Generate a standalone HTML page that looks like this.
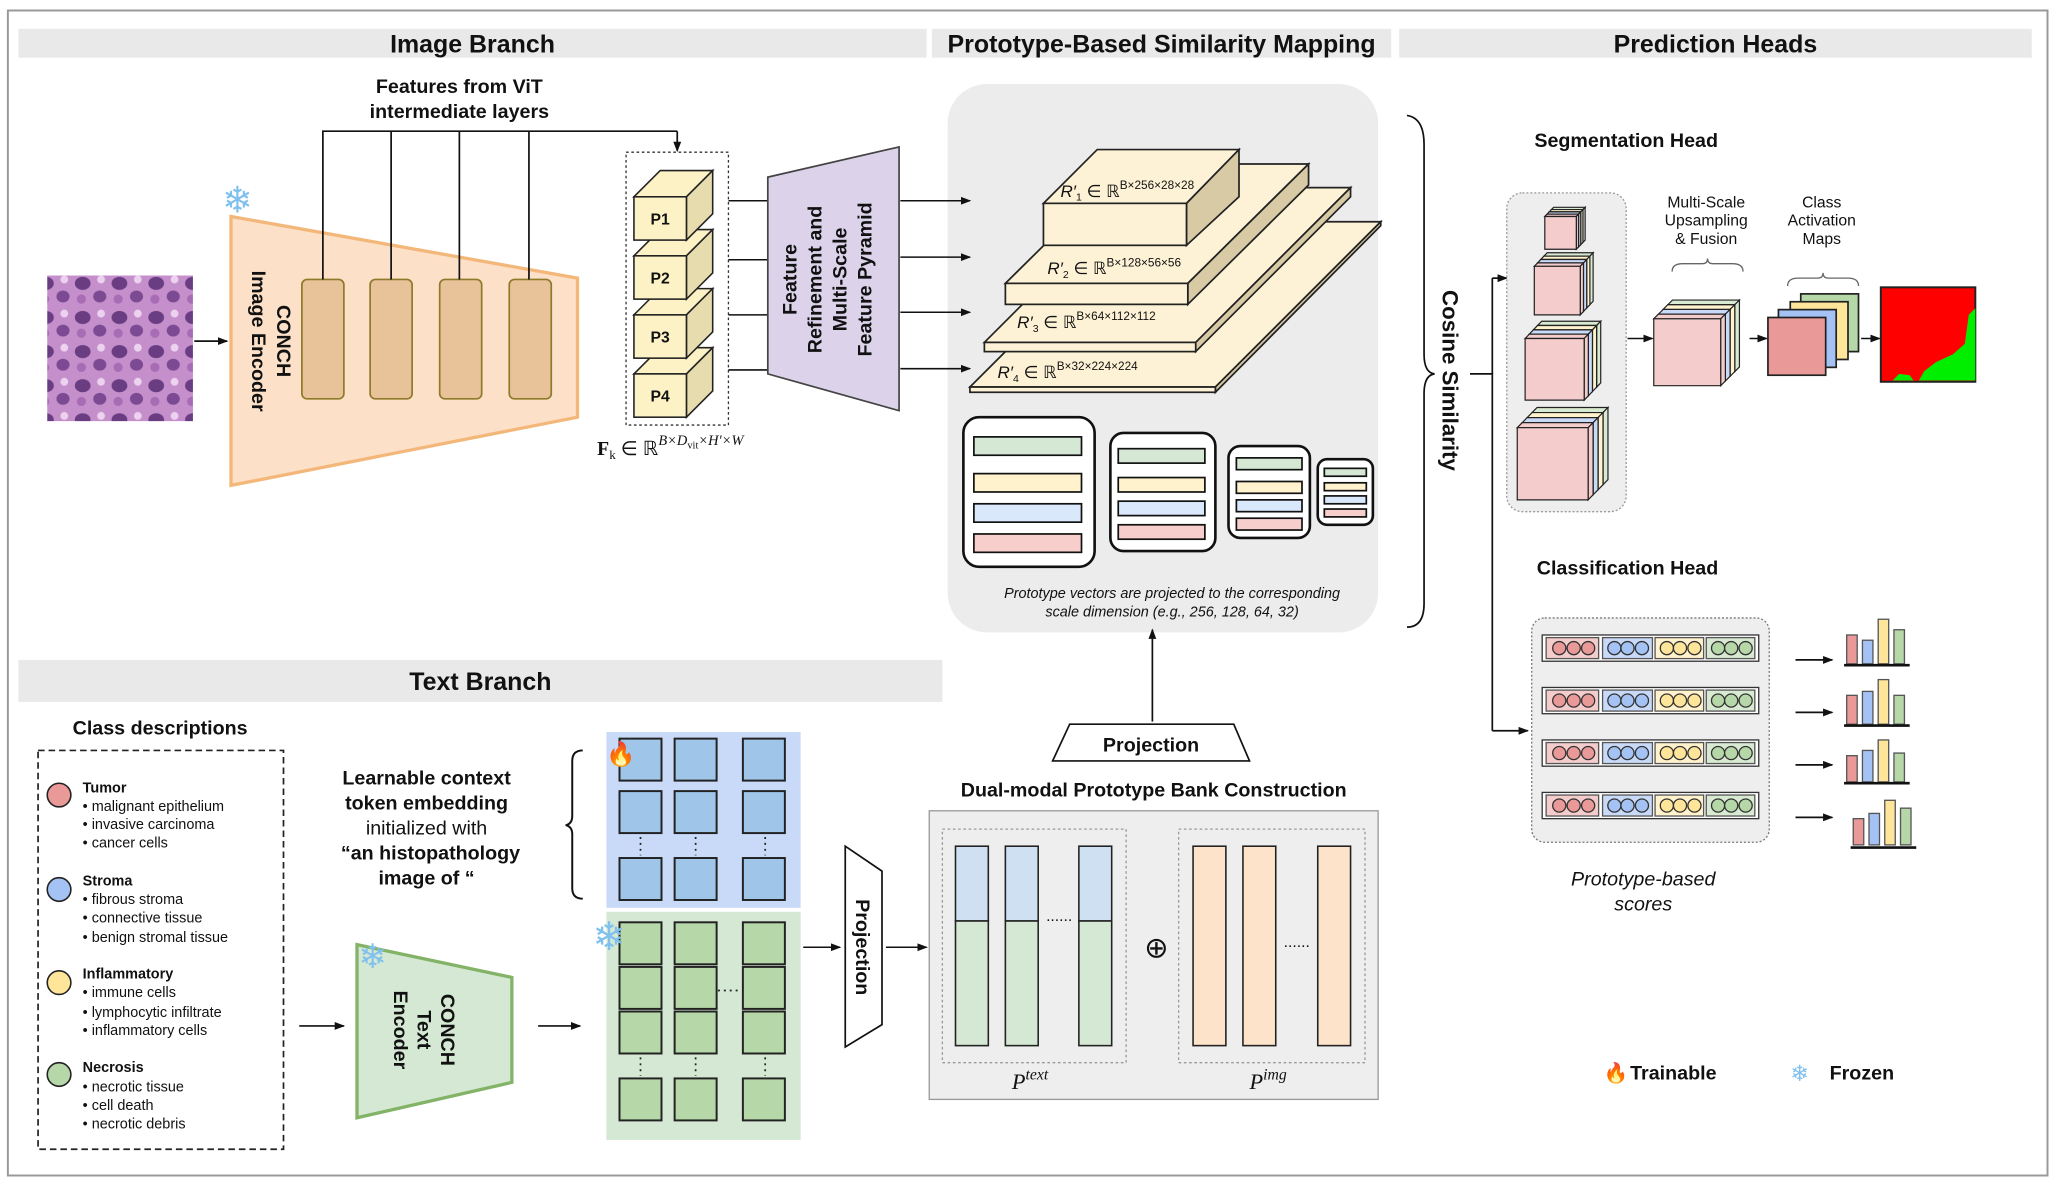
<!DOCTYPE html>
<html><head><meta charset="utf-8"><style>
html,body{margin:0;padding:0;background:#fff}
svg{display:block}
text{font-family:"Liberation Sans",sans-serif;fill:#111}
.b{font-weight:bold}
.m{font-family:"Liberation Serif",serif}
.ns{vector-effect:non-scaling-stroke}
.sf{fill:#7fc0ee}
</style></head><body>
<svg width="2058" height="1186" viewBox="0 0 1568 904" preserveAspectRatio="none" xmlns="http://www.w3.org/2000/svg">
<defs>
<marker id="ar" markerWidth="8" markerHeight="8" refX="7" refY="4" orient="auto" markerUnits="userSpaceOnUse"><path d="M0,1 L8,4 L0,7Z" fill="#111"/></marker>
<g id="lay">
<path class="ns" d="M0,0 L.07,-.07 L1.07,-.07 L1,0Z" stroke="#222" stroke-width="1.2"/>
<path class="ns" d="M1,0 L1.07,-.07 L1.07,.93 L1,1Z" stroke="#222" stroke-width="1.2"/>
<rect class="ns" x="0" y="0" width="1" height="1" stroke="#222" stroke-width="1.2"/>
</g>
<g id="cube">
<use href="#lay" x="0.21" y="-0.21" fill="#d9ead3"/>
<use href="#lay" x="0.14" y="-0.14" fill="#fff2cc"/>
<use href="#lay" x="0.07" y="-0.07" fill="#c9daf8"/>
<use href="#lay" x="0" y="0" fill="#f4cccc"/>
</g>
<pattern id="histo" width="28" height="26" patternUnits="userSpaceOnUse">
<rect width="28" height="26" fill="#c48fcb"/>
<ellipse cx="7" cy="8" rx="6" ry="5" fill="#6a3d82"/><ellipse cx="20" cy="18" rx="5" ry="4.5" fill="#7b4a92"/>
<circle cx="21" cy="5" r="3" fill="#ecd2ee"/><circle cx="6" cy="20" r="3.5" fill="#a86cb4"/>
</pattern>
</defs>

<rect x="6" y="8" width="1554" height="888" fill="#fff" stroke="#999" stroke-width="1.5"/>

<!-- headers -->
<rect x="14" y="22" width="692" height="22" fill="#e9e9e9"/>
<text x="360" y="40" font-size="19" text-anchor="middle" class="b">Image Branch</text>
<rect x="710" y="22" width="350" height="22" fill="#e9e9e9"/>
<text x="885" y="40" font-size="19" text-anchor="middle" class="b">Prototype-Based Similarity Mapping</text>
<rect x="1066" y="22" width="482" height="22" fill="#e9e9e9"/>
<text x="1307" y="40" font-size="19" text-anchor="middle" class="b">Prediction Heads</text>
<rect x="14" y="503" width="704" height="32" fill="#e9e9e9"/>
<text x="366" y="526" font-size="19" text-anchor="middle" class="b">Text Branch</text>

<rect x="722" y="64" width="328" height="418" rx="30" fill="#ececec"/>

<!-- image branch -->
<rect x="36" y="210" width="111" height="111" fill="url(#histo)"/>
<line x1="148" y1="260" x2="173" y2="260" stroke="#111" stroke-width="1.3" marker-end="url(#ar)"/>
<polygon points="176,165 440,212 440,318 176,370" fill="#fce1c8" stroke="#f4b77a" stroke-width="2.5"/>
<text x="181" y="162" font-size="28" class="sf" text-anchor="middle">❄</text>
<text transform="translate(211,260) rotate(90)" font-size="15" class="b" text-anchor="middle">CONCH</text>
<text transform="translate(192,260) rotate(90)" font-size="15" class="b" text-anchor="middle">Image Encoder</text>
<g fill="#e8c39a" stroke="#8f7a2a" stroke-width="1.3">
<rect x="230" y="213" width="32" height="91" rx="4"/><rect x="282" y="213" width="32" height="91" rx="4"/>
<rect x="335" y="213" width="32" height="91" rx="4"/><rect x="388" y="213" width="32" height="91" rx="4"/>
</g>
<g stroke="#111" stroke-width="1.3" fill="none">
<path d="M246,213 V100 H516"/><path d="M298,213 V100"/><path d="M350,213 V100"/><path d="M403,213 V100"/>
</g>
<line x1="516" y1="100" x2="516" y2="115" stroke="#111" stroke-width="1.3" marker-end="url(#ar)"/>
<text x="350" y="71" font-size="15" class="b" text-anchor="middle">Features from ViT</text>
<text x="350" y="90" font-size="15" class="b" text-anchor="middle">intermediate layers</text>
<rect x="477" y="116" width="78" height="208" fill="none" stroke="#333" stroke-dasharray="2,2"/>
<g stroke="#222" stroke-width="1.2">
<g><polygon points="483,285 503,265 543,265 523,285" fill="#fdf2c5"/><polygon points="523,285 543,265 543,298 523,318" fill="#e7dcae"/><rect x="483" y="285" width="40" height="33" fill="#fdf2c5"/></g>
<g><polygon points="483,240 503,220 543,220 523,240" fill="#fdf2c5"/><polygon points="523,240 543,220 543,253 523,273" fill="#e7dcae"/><rect x="483" y="240" width="40" height="33" fill="#fdf2c5"/></g>
<g><polygon points="483,195 503,175 543,175 523,195" fill="#fdf2c5"/><polygon points="523,195 543,175 543,208 523,228" fill="#e7dcae"/><rect x="483" y="195" width="40" height="33" fill="#fdf2c5"/></g>
<g><polygon points="483,150 503,130 543,130 523,150" fill="#fdf2c5"/><polygon points="523,150 543,130 543,163 523,183" fill="#e7dcae"/><rect x="483" y="150" width="40" height="33" fill="#fdf2c5"/></g>
</g>
<g font-size="12" class="b" text-anchor="middle"><text x="503" y="171" class="b">P1</text><text x="503" y="216" class="b">P2</text><text x="503" y="261" class="b">P3</text><text x="503" y="306" class="b">P4</text></g>
<text x="455" y="347" font-size="15" class="m"><tspan font-weight="bold">F</tspan><tspan font-size="10" dy="3">k</tspan><tspan dy="-3"> ∈ ℝ</tspan><tspan font-size="11" dy="-8" font-style="italic">B×D</tspan><tspan font-size="8" dy="3">vit</tspan><tspan font-size="11" dy="-3" font-style="italic">×H′×W</tspan></text>
<g stroke="#111" stroke-width="1.2"><line x1="555" y1="153" x2="585" y2="153"/><line x1="555" y1="198" x2="585" y2="198"/><line x1="555" y1="240" x2="585" y2="240"/><line x1="555" y1="282" x2="585" y2="282"/></g>
<polygon points="585,135 685,112 685,313 585,285" fill="#dcd3ea" stroke="#444" stroke-width="1.3"/>
<g font-size="15" class="b" text-anchor="middle">
<text transform="translate(607,213) rotate(-90)" class="b">Feature</text>
<text transform="translate(626,213) rotate(-90)" class="b">Refinement and</text>
<text transform="translate(645,213) rotate(-90)" class="b">Multi-Scale</text>
<text transform="translate(664,213) rotate(-90)" class="b">Feature Pyramid</text>
</g>
<line x1="686" y1="153" x2="739" y2="153" stroke="#111" stroke-width="1.2" marker-end="url(#ar)"/>
<line x1="686" y1="196" x2="739" y2="196" stroke="#111" stroke-width="1.2" marker-end="url(#ar)"/>
<line x1="686" y1="238" x2="739" y2="238" stroke="#111" stroke-width="1.2" marker-end="url(#ar)"/>
<line x1="686" y1="281" x2="739" y2="281" stroke="#111" stroke-width="1.2" marker-end="url(#ar)"/>

<!-- prototype mapping -->
<g stroke="#222" stroke-width="1.3" fill="#fdf2d5">
<polygon points="739,295 865,169 1052,169 926,295"/><polygon points="926,295 1052,169 1052,172 926,299" fill="#d8caa5"/><rect x="739" y="295" width="187" height="4"/>
<polygon points="750,261 868,143 1029,143 911,261"/><polygon points="911,261 1029,143 1029,150 911,268" fill="#d8caa5"/><rect x="750" y="261" width="161" height="7"/>
<polygon points="766,216 858,125 997,125 905,216"/><polygon points="905,216 997,125 997,141 905,232" fill="#d8caa5"/><rect x="766" y="216" width="139" height="16"/>
<polygon points="795,155 836,114 944,114 904,155"/><polygon points="904,155 944,114 944,150 904,187" fill="#d8caa5"/><rect x="795" y="155" width="109" height="32"/>
</g>
<g class="m" font-size="13">
<text x="808" y="150"><tspan font-style="italic">R′</tspan><tspan font-size="8" dy="3">1</tspan><tspan dy="-3"> ∈ ℝ</tspan><tspan font-size="9" dy="-6">B×256×28×28</tspan></text>
<text x="798" y="209"><tspan font-style="italic">R′</tspan><tspan font-size="8" dy="3">2</tspan><tspan dy="-3"> ∈ ℝ</tspan><tspan font-size="9" dy="-6">B×128×56×56</tspan></text>
<text x="775" y="250"><tspan font-style="italic">R′</tspan><tspan font-size="8" dy="3">3</tspan><tspan dy="-3"> ∈ ℝ</tspan><tspan font-size="9" dy="-6">B×64×112×112</tspan></text>
<text x="760" y="288"><tspan font-style="italic">R′</tspan><tspan font-size="8" dy="3">4</tspan><tspan dy="-3"> ∈ ℝ</tspan><tspan font-size="9" dy="-6">B×32×224×224</tspan></text>
</g>
<g stroke="#111" stroke-width="1.3">
<rect x="734" y="318" width="100" height="114" rx="12" fill="#fff" stroke-width="2"/>
<rect x="742" y="333" width="82" height="14" fill="#d5e8d4"/><rect x="742" y="361" width="82" height="14" fill="#fff2cc"/><rect x="742" y="384" width="82" height="14" fill="#dae8fc"/><rect x="742" y="407" width="82" height="14" fill="#f8cecc"/>
<rect x="846" y="330" width="80" height="90" rx="10" fill="#fff" stroke-width="2"/>
<rect x="852" y="342" width="66" height="11" fill="#d5e8d4"/><rect x="852" y="364" width="66" height="11" fill="#fff2cc"/><rect x="852" y="382" width="66" height="11" fill="#dae8fc"/><rect x="852" y="400" width="66" height="11" fill="#f8cecc"/>
<rect x="936" y="340" width="62" height="70" rx="9" fill="#fff" stroke-width="2"/>
<rect x="942" y="349" width="50" height="9" fill="#d5e8d4"/><rect x="942" y="367" width="50" height="9" fill="#fff2cc"/><rect x="942" y="381" width="50" height="9" fill="#dae8fc"/><rect x="942" y="395" width="50" height="9" fill="#f8cecc"/>
<rect x="1004" y="350" width="42" height="50" rx="7" fill="#fff" stroke-width="2"/>
<rect x="1009" y="357" width="32" height="6" fill="#d5e8d4"/><rect x="1009" y="368" width="32" height="6" fill="#fff2cc"/><rect x="1009" y="378" width="32" height="6" fill="#dae8fc"/><rect x="1009" y="388" width="32" height="6" fill="#f8cecc"/>
</g>
<text x="893" y="456" font-size="11" font-style="italic" text-anchor="middle">Prototype vectors are projected  to the corresponding</text>
<text x="893" y="470" font-size="11" font-style="italic" text-anchor="middle">scale dimension (e.g., 256, 128, 64, 32)</text>
<line x1="878" y1="550" x2="878" y2="480" stroke="#111" stroke-width="1.3" marker-end="url(#ar)"/>
<polygon points="815,552 940,552 952,580 802,580" fill="#fff" stroke="#111" stroke-width="1.3"/>
<text x="877" y="573" font-size="15" class="b" text-anchor="middle">Projection</text>
<text x="879" y="607" font-size="15" class="b" text-anchor="middle">Dual-modal Prototype Bank Construction</text>
<rect x="708" y="618" width="342" height="220" fill="#eeeeee" stroke="#999"/>
<rect x="718" y="632" width="140" height="178" fill="none" stroke="#999" stroke-dasharray="2,2"/>
<rect x="898" y="632" width="142" height="178" fill="none" stroke="#999" stroke-dasharray="2,2"/>
<g stroke="#222" stroke-width="1.2">
<rect x="728" y="645" width="25" height="57" fill="#cfe0f3"/><rect x="728" y="702" width="25" height="95" fill="#d5e8d4"/>
<rect x="766" y="645" width="25" height="57" fill="#cfe0f3"/><rect x="766" y="702" width="25" height="95" fill="#d5e8d4"/>
<rect x="822" y="645" width="25" height="57" fill="#cfe0f3"/><rect x="822" y="702" width="25" height="95" fill="#d5e8d4"/>
<rect x="909" y="645" width="25" height="152" fill="#fde3c9"/><rect x="947" y="645" width="25" height="152" fill="#fde3c9"/><rect x="1004" y="645" width="25" height="152" fill="#fde3c9"/>
</g>
<text x="807" y="702" font-size="12" text-anchor="middle">......</text>
<text x="988" y="722" font-size="12" text-anchor="middle">......</text>
<text x="881" y="730" font-size="22" text-anchor="middle">⊕</text>
<text x="771" y="830" font-size="17" class="m" font-style="italic">P<tspan font-size="12" dy="-7">text</tspan></text>
<text x="952" y="830" font-size="17" class="m" font-style="italic">P<tspan font-size="12" dy="-7">img</tspan></text>

<!-- prediction heads -->
<path d="M1072,88 Q1085,90 1085,110 L1085,270 Q1085,284 1093,285 Q1085,286 1085,300 L1085,460 Q1085,478 1072,478" fill="none" stroke="#111" stroke-width="1.3"/>
<text transform="translate(1099,290) rotate(90)" font-size="17" class="b" text-anchor="middle">Cosine Similarity</text>
<path d="M1120,285 H1137 V557" fill="none" stroke="#111" stroke-width="1.3"/>
<line x1="1137" y1="212" x2="1137" y2="285" stroke="#111" stroke-width="1.3"/>
<line x1="1137" y1="212" x2="1148" y2="212" stroke="#111" stroke-width="1.3" marker-end="url(#ar)"/>
<line x1="1137" y1="557" x2="1164" y2="557" stroke="#111" stroke-width="1.3" marker-end="url(#ar)"/>
<text x="1239" y="112" font-size="15" class="b" text-anchor="middle">Segmentation Head</text>
<rect x="1148" y="147" width="91" height="243" rx="12" fill="#eeeeee" stroke="#999" stroke-dasharray="1.5,1.5"/>
<use href="#cube" transform="translate(1177,165) scale(24,25)"/>
<use href="#cube" transform="translate(1169,203) scale(35,37)"/>
<use href="#cube" transform="translate(1162,258) scale(45,47)"/>
<use href="#cube" transform="translate(1156,326) scale(54,55)"/>
<use href="#cube" transform="translate(1260,243) scale(51,51)"/>
<g font-size="12" text-anchor="middle">
<text x="1300" y="158">Multi-Scale</text><text x="1300" y="172">Upsampling</text><text x="1300" y="186">&amp; Fusion</text>
<text x="1388" y="158">Class</text><text x="1388" y="172">Activation</text><text x="1388" y="186">Maps</text>
</g>
<path d="M1274,207 Q1274,201 1282,201 L1297,201 Q1301,201 1301,197 Q1301,201 1305,201 L1320,201 Q1328,201 1328,207" fill="none" stroke="#666"/>
<path d="M1362,218 Q1362,212 1370,212 L1385,212 Q1389,212 1389,208 Q1389,212 1393,212 L1408,212 Q1416,212 1416,218" fill="none" stroke="#666"/>
<line x1="1240" y1="258" x2="1259" y2="258" stroke="#111" stroke-width="1.2" marker-end="url(#ar)"/>
<line x1="1333" y1="258" x2="1346" y2="258" stroke="#111" stroke-width="1.2" marker-end="url(#ar)"/>
<line x1="1418" y1="258" x2="1432" y2="258" stroke="#111" stroke-width="1.2" marker-end="url(#ar)"/>
<g stroke="#222" stroke-width="1.3">
<rect x="1372" y="224" width="44" height="44" fill="#b6d7a8"/>
<rect x="1364" y="230" width="44" height="44" fill="#ffe599"/>
<rect x="1355" y="236" width="44" height="44" fill="#a4c2f4"/>
<rect x="1347" y="242" width="44" height="44" fill="#ea9999"/>
</g>
<rect x="1433" y="219" width="72" height="72" fill="#ff0000" stroke="#222" stroke-width="1.5"/>
<path d="M1505,235 L1500,240 L1497,262 L1488,270 L1475,276 L1466,283 L1462,290 L1505,290Z M1442,290 L1447,285 L1455,286 L1458,290Z" fill="#00ee00"/>

<text x="1240" y="438" font-size="15" class="b" text-anchor="middle">Classification Head</text>
<rect x="1167" y="471" width="181" height="171" rx="10" fill="#eeeeee" stroke="#777" stroke-dasharray="1.5,1.5"/>
<g id="row">
<rect x="1175" y="484" width="165" height="20" fill="#fff" stroke="#333"/>
<rect x="1178" y="486" width="40" height="16" fill="#f4cccc" stroke="#555"/><rect x="1221" y="486" width="38" height="16" fill="#c9daf8" stroke="#555"/>
<rect x="1261" y="486" width="37" height="16" fill="#fff2cc" stroke="#555"/><rect x="1300" y="486" width="37" height="16" fill="#d9ead3" stroke="#555"/>
<g stroke="#333" stroke-width="1"><circle cx="1188" cy="494" r="5" fill="#ea9999"/><circle cx="1199" cy="494" r="5" fill="#ea9999"/><circle cx="1210" cy="494" r="5" fill="#ea9999"/>
<circle cx="1230" cy="494" r="5" fill="#a4c2f4"/><circle cx="1240" cy="494" r="5" fill="#a4c2f4"/><circle cx="1251" cy="494" r="5" fill="#a4c2f4"/>
<circle cx="1270" cy="494" r="5" fill="#ffe599"/><circle cx="1280" cy="494" r="5" fill="#ffe599"/><circle cx="1291" cy="494" r="5" fill="#ffe599"/>
<circle cx="1309" cy="494" r="5" fill="#b6d7a8"/><circle cx="1319" cy="494" r="5" fill="#b6d7a8"/><circle cx="1330" cy="494" r="5" fill="#b6d7a8"/></g>
</g>
<use href="#row" y="40"/><use href="#row" y="80"/><use href="#row" y="120"/>
<line x1="1368" y1="503" x2="1396" y2="503" stroke="#111" stroke-width="1.3" marker-end="url(#ar)"/>
<line x1="1368" y1="543" x2="1396" y2="543" stroke="#111" stroke-width="1.3" marker-end="url(#ar)"/>
<line x1="1368" y1="583" x2="1396" y2="583" stroke="#111" stroke-width="1.3" marker-end="url(#ar)"/>
<line x1="1368" y1="623" x2="1396" y2="623" stroke="#111" stroke-width="1.3" marker-end="url(#ar)"/>
<g stroke="#555" stroke-width="1">
<rect x="1407" y="484" width="8" height="22" fill="#ea9999"/><rect x="1419" y="488" width="8" height="18" fill="#a4c2f4"/><rect x="1431" y="472" width="8" height="34" fill="#ffe599"/><rect x="1443" y="480" width="8" height="26" fill="#b6d7a8"/>
<rect x="1407" y="530" width="8" height="22" fill="#ea9999"/><rect x="1419" y="527" width="8" height="25" fill="#a4c2f4"/><rect x="1431" y="518" width="8" height="34" fill="#ffe599"/><rect x="1443" y="530" width="8" height="22" fill="#b6d7a8"/>
<rect x="1407" y="576" width="8" height="20" fill="#ea9999"/><rect x="1419" y="572" width="8" height="24" fill="#a4c2f4"/><rect x="1431" y="564" width="8" height="32" fill="#ffe599"/><rect x="1443" y="574" width="8" height="22" fill="#b6d7a8"/>
<rect x="1412" y="624" width="8" height="20" fill="#ea9999"/><rect x="1424" y="620" width="8" height="24" fill="#a4c2f4"/><rect x="1436" y="610" width="8" height="34" fill="#ffe599"/><rect x="1448" y="616" width="8" height="28" fill="#b6d7a8"/>
</g>
<g stroke="#111" stroke-width="2"><line x1="1405" y1="507" x2="1455" y2="507"/><line x1="1405" y1="553" x2="1455" y2="553"/><line x1="1405" y1="597" x2="1455" y2="597"/><line x1="1410" y1="646" x2="1460" y2="646"/></g>
<text x="1252" y="675" font-size="15" font-style="italic" text-anchor="middle">Prototype-based</text>
<text x="1252" y="694" font-size="15" font-style="italic" text-anchor="middle">scores</text>
<text x="1222" y="823" font-size="15">🔥</text><text x="1242" y="823" font-size="15" class="b">Trainable</text>
<text x="1364" y="824" font-size="17" class="sf">❄</text><text x="1394" y="823" font-size="15" class="b">Frozen</text>

<!-- text branch -->
<text x="122" y="560" font-size="15" class="b" text-anchor="middle">Class descriptions</text>
<rect x="29" y="572" width="187" height="304" fill="none" stroke="#222" stroke-width="1.3" stroke-dasharray="5,3"/>
<g stroke="#222" stroke-width="1.2">
<circle cx="45" cy="606" r="9" fill="#ea9999"/><circle cx="45" cy="678" r="9" fill="#a4c2f4"/>
<circle cx="45" cy="749" r="9" fill="#ffe599"/><circle cx="45" cy="819" r="9" fill="#b6d7a8"/>
</g>
<g font-size="11">
<text x="63" y="604" class="b">Tumor</text><text x="63" y="618">• malignant epithelium</text><text x="63" y="632">• invasive carcinoma</text><text x="63" y="646">• cancer cells</text>
<text x="63" y="675" class="b">Stroma</text><text x="63" y="689">• fibrous stroma</text><text x="63" y="703">• connective tissue</text><text x="63" y="718">• benign stromal tissue</text>
<text x="63" y="746" class="b">Inflammatory</text><text x="63" y="760">• immune cells</text><text x="63" y="775">• lymphocytic infiltrate</text><text x="63" y="789">• inflammatory cells</text>
<text x="63" y="817" class="b">Necrosis</text><text x="63" y="832">• necrotic tissue</text><text x="63" y="846">• cell death</text><text x="63" y="860">• necrotic debris</text>
</g>
<g font-size="15" text-anchor="middle">
<text x="325" y="598" class="b">Learnable context</text><text x="325" y="617" class="b">token embedding</text>
<text x="325" y="636">initialized with</text><text x="328" y="655" class="b">“an histopathology</text><text x="325" y="674" class="b">image of “</text>
</g>
<path d="M444,572 Q436,572 436,580 L436,622 Q436,628 431,629 Q436,630 436,636 L436,677 Q436,685 444,685" fill="none" stroke="#111" stroke-width="1.5"/>
<line x1="228" y1="782" x2="262" y2="782" stroke="#111" stroke-width="1.2" marker-end="url(#ar)"/>
<polygon points="272,720 390,745 390,825 272,852" fill="#d5e8d4" stroke="#82b366" stroke-width="2.5"/>
<text x="284" y="738" font-size="26" class="sf" text-anchor="middle">❄</text>
<g font-size="15" class="b" text-anchor="middle">
<text transform="translate(336,785) rotate(90)" class="b">CONCH</text>
<text transform="translate(318,785) rotate(90)" class="b">Text</text>
<text transform="translate(300,785) rotate(90)" class="b">Encoder</text>
</g>
<line x1="410" y1="782" x2="442" y2="782" stroke="#111" stroke-width="1.2" marker-end="url(#ar)"/>
<rect x="462" y="558" width="148" height="134" fill="#c9daf8"/>
<rect x="462" y="695" width="148" height="174" fill="#d5e8d4"/>
<g stroke="#222" stroke-width="1.5" fill="#9fc5e8">
<rect x="472" y="563" width="32" height="32"/><rect x="514" y="563" width="32" height="32"/><rect x="566" y="563" width="32" height="32"/>
<rect x="472" y="603" width="32" height="32"/><rect x="514" y="603" width="32" height="32"/><rect x="566" y="603" width="32" height="32"/>
<rect x="472" y="654" width="32" height="32"/><rect x="514" y="654" width="32" height="32"/><rect x="566" y="654" width="32" height="32"/>
</g>
<g stroke="#222" stroke-width="1.5" fill="#b6d7a8">
<rect x="472" y="703" width="32" height="32"/><rect x="514" y="703" width="32" height="32"/><rect x="566" y="703" width="32" height="32"/>
<rect x="472" y="737" width="32" height="32"/><rect x="514" y="737" width="32" height="32"/><rect x="566" y="737" width="32" height="32"/>
<rect x="472" y="771" width="32" height="32"/><rect x="514" y="771" width="32" height="32"/><rect x="566" y="771" width="32" height="32"/>
<rect x="472" y="822" width="32" height="32"/><rect x="514" y="822" width="32" height="32"/><rect x="566" y="822" width="32" height="32"/>
</g>
<g stroke="#222" stroke-dasharray="1.5,3" stroke-width="1.3">
<line x1="488" y1="638" x2="488" y2="652"/><line x1="530" y1="638" x2="530" y2="652"/><line x1="583" y1="638" x2="583" y2="652"/>
<line x1="488" y1="806" x2="488" y2="820"/><line x1="530" y1="806" x2="530" y2="820"/><line x1="583" y1="806" x2="583" y2="820"/>
<line x1="547" y1="755" x2="565" y2="755"/>
</g>
<text x="462" y="581" font-size="18">🔥</text>
<text x="464" y="724" font-size="30" class="sf" text-anchor="middle">❄</text>
<line x1="612" y1="722" x2="640" y2="722" stroke="#111" stroke-width="1.2" marker-end="url(#ar)"/>
<polygon points="644,645 672,664 672,781 644,798" fill="#fff" stroke="#111" stroke-width="1.3"/>
<text transform="translate(652,722) rotate(90)" font-size="15" class="b" text-anchor="middle">Projection</text>
<line x1="675" y1="722" x2="706" y2="722" stroke="#111" stroke-width="1.2" marker-end="url(#ar)"/>
</svg>
</body></html>
